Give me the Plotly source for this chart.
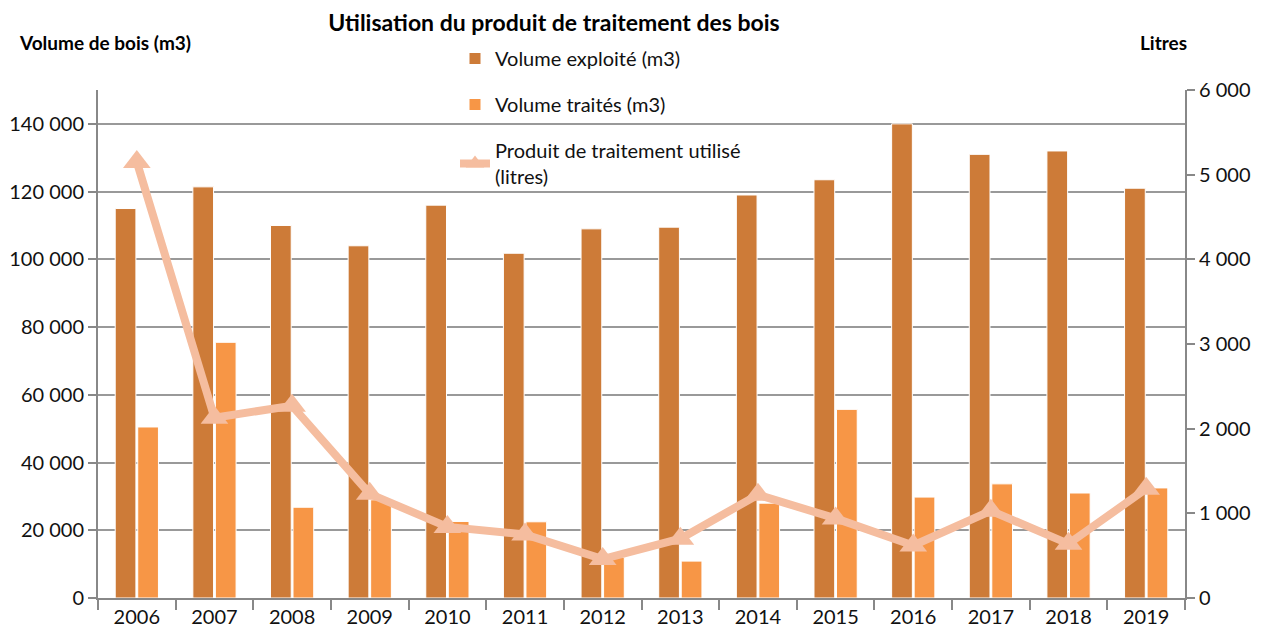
import plotly.graph_objects as go

years = ["2006", "2007", "2008", "2009", "2010", "2011", "2012",
         "2013", "2014", "2015", "2016", "2017", "2018", "2019"]
volume_exploite = [115000, 121400, 110000, 104000, 116000, 101800, 109000,
                   109500, 119000, 123500, 140000, 131000, 132000, 121000]
volume_traite = [50500, 75500, 26800, 29000, 22600, 22500, 12000,
                 10900, 28000, 55700, 29800, 33700, 31000, 32500]
produit_litres = [5150, 2130, 2270, 1230, 840, 750, 460,
                  700, 1220, 940, 620, 1030, 640, 1290]

FONT = "Lato"
OFF = 8  # page body margin offset
W, H = 1265 - OFF, 636 - OFF
PL, PR, PT, PB = 98 - OFF, 1185 - OFF, 90 - OFF, 598 - OFF  # plot area in figure px
PW, PH = PR - PL, PB - PT


def px_x(x):
    return (x - OFF - PL) / PW


def px_y(y):
    return (PB - (y - OFF)) / PH


fig = go.Figure()
fig.add_trace(go.Bar(
    x=years, y=volume_exploite, name="Volume exploité (m3)",
    marker=dict(color="#CD7B38", line=dict(color="white", width=1)),
    legendgroup="a", yaxis="y"))
fig.add_trace(go.Bar(
    x=years, y=volume_traite, name="Volume traités (m3)",
    marker=dict(color="#F79646", line=dict(color="white", width=1)),
    legendgroup="b", yaxis="y"))
fig.add_trace(go.Scatter(
    x=years, y=produit_litres, name="Produit de traitement utilisé<br>(litres)",
    mode="lines+markers",
    line=dict(color="#F5BD9F", width=8),
    marker=dict(symbol="triangle-up", size=24, color="#F5BD9F"),
    legendgroup="c", yaxis="y2"))

fig.update_layout(
    width=W, height=H,
    margin=dict(l=PL, r=W - PR, t=PT, b=H - PB),
    paper_bgcolor="white", plot_bgcolor="white",
    font=dict(family=FONT, size=20, color="#111"),
    separators=", ",
    bargap=0.42, bargroupgap=0.08,
    title=dict(text="<b>Utilisation du produit de traitement des bois</b>",
               x=(554 - OFF) / W, xanchor="center", y=1 - (23 - OFF) / H, yanchor="middle",
               font=dict(family=FONT, size=23, color="#000")),
    showlegend=True,
    legend=dict(x=px_x(455), y=px_y(39), xanchor="left", yanchor="top",
                bgcolor="rgba(0,0,0,0)", tracegroupgap=17,
                font=dict(family=FONT, size=20, color="#111")),
    xaxis=dict(type="category", range=[-0.5, 13.5], showline=True, linecolor="#888",
               linewidth=2, ticks="outside", tickson="boundaries", ticklen=10,
               tickcolor="#888", tickwidth=2, showgrid=False, automargin=False,
               tickfont=dict(family=FONT, size=20, color="#111")),
    yaxis=dict(range=[0, 150000], dtick=20000, tickformat=",.0f",
               showline=True, linecolor="#888", linewidth=2, automargin=False,
               ticks="outside", ticklen=8, tickcolor="#888", tickwidth=2,
               showgrid=True, gridcolor="#999", gridwidth=2, zeroline=False,
               tickfont=dict(family=FONT, size=20, color="#111")),
    yaxis2=dict(range=[0, 6000], dtick=1000, tickformat=",.0f", overlaying="y",
                side="right", showline=True, linecolor="#888", linewidth=2,
                ticks="outside", ticklen=8, tickcolor="#888", tickwidth=2,
                showgrid=False, zeroline=False, automargin=False,
                tickfont=dict(family=FONT, size=20, color="#111")),
    annotations=[
        dict(text="<b>Volume de bois (m3)</b>", xref="paper", yref="paper",
             x=px_x(17), y=px_y(43), xanchor="left", yanchor="middle",
             showarrow=False, font=dict(family=FONT, size=19, color="#000")),
        dict(text="<b>Litres</b>", xref="paper", yref="paper",
             x=px_x(1163), y=px_y(43), xanchor="center", yanchor="middle",
             showarrow=False, font=dict(family=FONT, size=19, color="#000")),
    ],
)

fig.write_html("out.html")
